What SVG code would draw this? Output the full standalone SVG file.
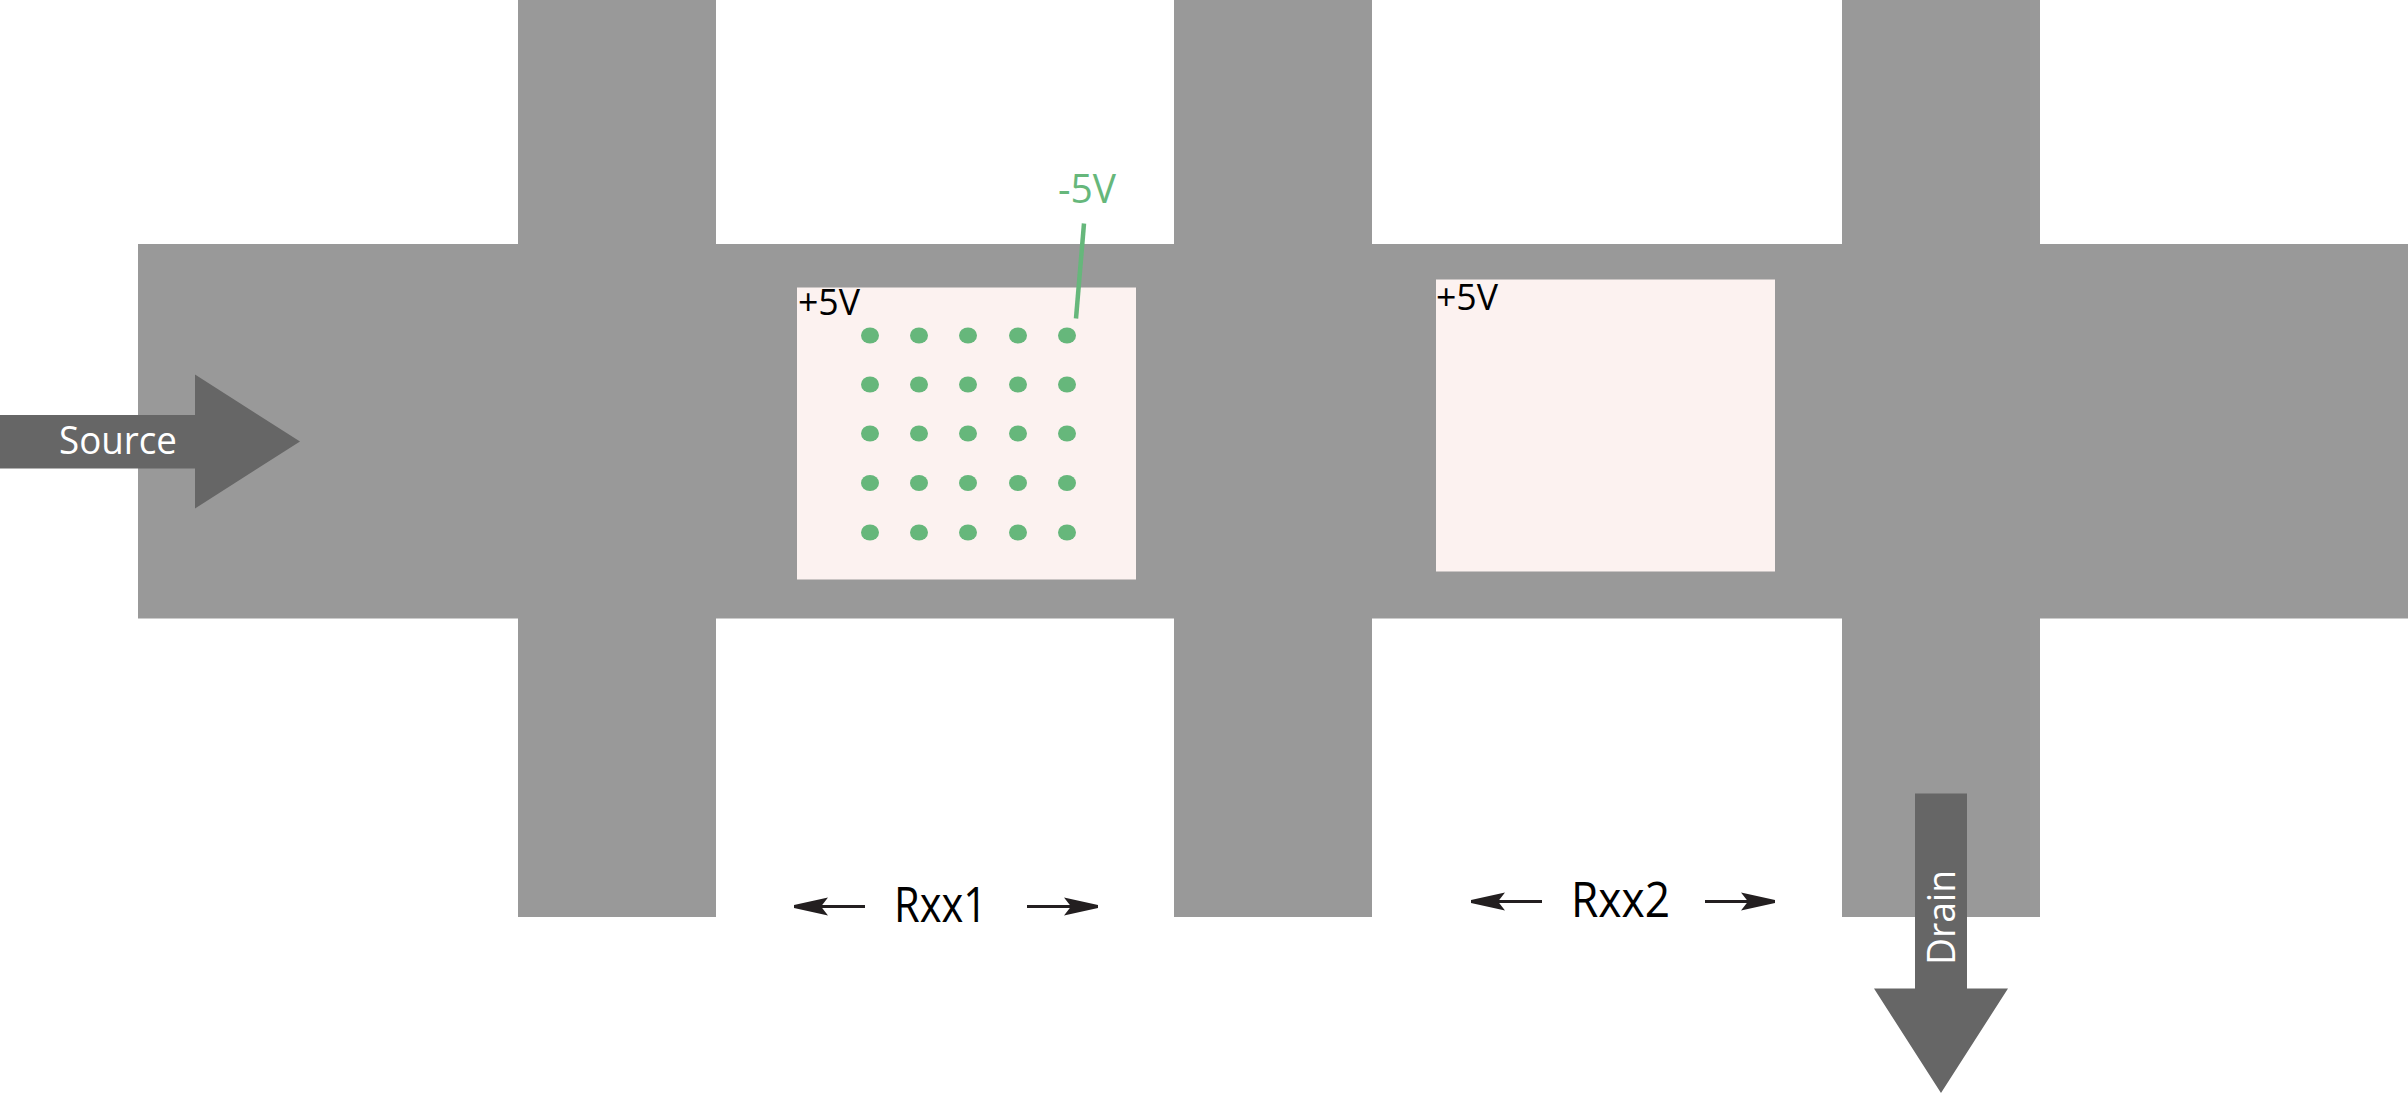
<svg xmlns="http://www.w3.org/2000/svg" width="2408" height="1093" viewBox="0 0 2408 1093">
<style>
.t{font-family:"Open Sans","Noto Sans","Liberation Sans",sans-serif}
.bar{fill:#999999}
.pad{fill:#fcf2f0}
.big{fill:#666666}
.dot{fill:#66b77b}
.lbl{fill:#000000}
.w{fill:#ffffff}
.ar{stroke:#231f20;stroke-width:3;fill:none;marker-end:url(#head)}
</style>
<defs>
<marker id="head" markerUnits="userSpaceOnUse" markerWidth="40" markerHeight="22" refX="36" refY="10" orient="auto"><path d="M2 1L36 8.500V11.500L2 19L9 10Z" fill="#231f20"/></marker>
<ellipse id="d" rx="9" ry="8" class="dot"/>
</defs>
<rect width="2408" height="1093" fill="#ffffff"/>
<g id="channel">
<rect class="bar" x="138" y="244" width="2270" height="374.500"/>
<rect class="bar" x="518" y="0" width="198" height="917"/>
<rect class="bar" x="1174" y="0" width="198" height="917"/>
<rect class="bar" x="1842" y="0" width="198" height="917"/>
</g>
<g id="pad1">
<rect class="pad" x="797" y="287.500" width="339" height="292"/>
<text class="t lbl" x="798" y="315" font-size="36" textLength="62" lengthAdjust="spacingAndGlyphs">+5V</text>
</g>
<g id="pad2">
<rect class="pad" x="1436" y="279.500" width="339" height="292"/>
<text class="t lbl" x="1436" y="310" font-size="36" textLength="62" lengthAdjust="spacingAndGlyphs">+5V</text>
</g>
<g id="dots">
<use href="#d" x="870" y="335.500"/><use href="#d" x="919" y="335.500"/><use href="#d" x="968" y="335.500"/><use href="#d" x="1018" y="335.500"/><use href="#d" x="1067" y="335.500"/>
<use href="#d" x="870" y="384.500"/><use href="#d" x="919" y="384.500"/><use href="#d" x="968" y="384.500"/><use href="#d" x="1018" y="384.500"/><use href="#d" x="1067" y="384.500"/>
<use href="#d" x="870" y="433.500"/><use href="#d" x="919" y="433.500"/><use href="#d" x="968" y="433.500"/><use href="#d" x="1018" y="433.500"/><use href="#d" x="1067" y="433.500"/>
<use href="#d" x="870" y="483"/><use href="#d" x="919" y="483"/><use href="#d" x="968" y="483"/><use href="#d" x="1018" y="483"/><use href="#d" x="1067" y="483"/>
<use href="#d" x="870" y="532.500"/><use href="#d" x="919" y="532.500"/><use href="#d" x="968" y="532.500"/><use href="#d" x="1018" y="532.500"/><use href="#d" x="1067" y="532.500"/>
</g>
<g id="source">
<path class="big" d="M0 415H195V374.500L300 441.500L195 508.500V468.500H0Z"/>
<text class="t w" x="59" y="453.500" font-size="39" textLength="118" lengthAdjust="spacingAndGlyphs">Source</text>
</g>
<g id="drain">
<path class="big" d="M1915 793.500H1967V988.500H2008L1941 1093L1874 988.500H1915Z"/>
<text class="t w" transform="translate(1955 965) rotate(-90)" font-size="38" textLength="95" lengthAdjust="spacingAndGlyphs">Drain</text>
</g>
<g id="gate-label">
<text class="t" fill="#66b77b" x="1058" y="203" font-size="40" textLength="58" lengthAdjust="spacingAndGlyphs">-5V</text>
</g>
<g id="rxx1"><text class="t lbl" x="894" y="922" font-size="50" textLength="93" lengthAdjust="spacingAndGlyphs">Rxx1</text></g>
<g id="rxx2"><text class="t lbl" x="1571" y="917" font-size="50" textLength="99" lengthAdjust="spacingAndGlyphs">Rxx2</text></g>
<g id="connectors">
<line x1="1084" y1="223.500" x2="1076" y2="318.500" stroke="#66b77b" stroke-width="4.500"/>
<line class="ar" x1="865" y1="906.500" x2="794" y2="906.500"/>
<line class="ar" x1="1027" y1="906.500" x2="1098" y2="906.500"/>
<line class="ar" x1="1542" y1="901.500" x2="1471" y2="901.500"/>
<line class="ar" x1="1705" y1="901.500" x2="1775" y2="901.500"/>
</g>
</svg>
